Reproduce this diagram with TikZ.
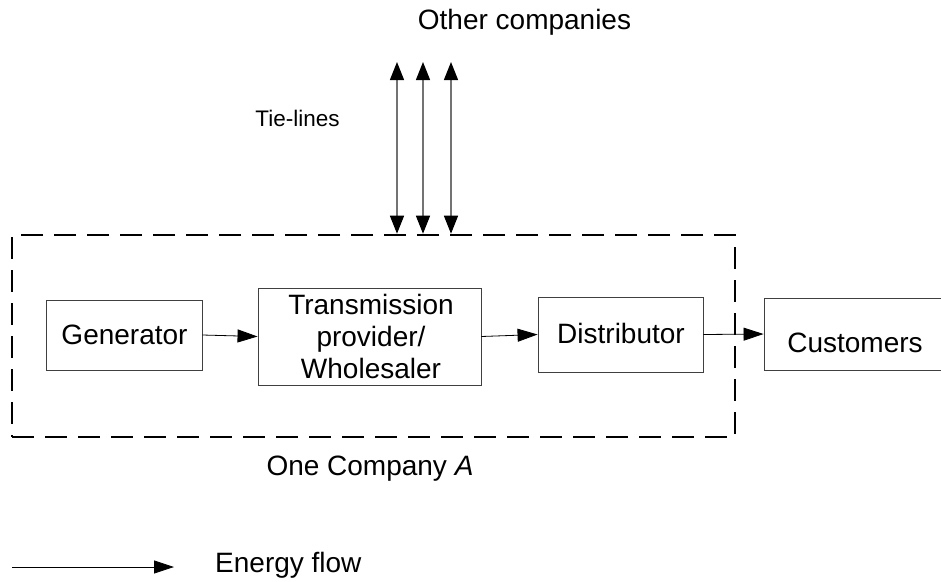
\documentclass[tikz,border=0pt]{standalone}
\usepackage{fontspec}
\setmainfont{Liberation Sans}
\usetikzlibrary{arrows.meta}
\tikzset{
  blockbox/.style={draw=black!75, line width=0.9pt, rectangle, inner sep=0pt},
  flow/.style={draw=black, line width=0.8pt, -{Triangle[length=20pt,width=13pt]}},
  tieline/.style={draw=black!55, line width=1.4pt, {Triangle[length=18pt,width=14pt,color=black]}-{Triangle[length=18pt,width=14pt,color=black]}},
  companybox/.style={draw=black, line width=2.6pt, dash pattern=on 22pt off 11pt, rectangle, inner sep=0pt},
  bigtext/.style={font=\fontsize{28}{32}\selectfont, align=center, inner sep=0pt},
  smalltext/.style={font=\fontsize{22.5}{26}\selectfont, inner sep=0pt}
}
\begin{document}
\begin{tikzpicture}[x=1pt, y=-1pt]
\useasboundingbox (0,0) rectangle (941,581);
\clip (0,0) rectangle (941,581);
% company boundary
\node[companybox, minimum width=723pt, minimum height=202pt] (comp) at (373.5,336) {};
% blocks
\node[blockbox, minimum width=156pt, minimum height=70pt] (gen) at (124,335) {};
\node[bigtext] (gentext) at (124.5,335) {Generator};
\node[blockbox, minimum width=223pt, minimum height=97pt] (trans) at (369.5,336.5) {};
\node[bigtext] (transtext) at (371,336) {Transmission\\provider/\\Wholesaler};
\node[blockbox, minimum width=165pt, minimum height=75pt] (dist) at (620.5,334.5) {};
\node[bigtext] (disttext) at (621,333) {Distributor};
\node[blockbox, minimum width=200pt, minimum height=72pt] (cust) at (864,334) {};
\node[bigtext] (custtext) at (855,343) {Customers};
% energy flow arrows
\draw[flow] (gen.east) -- (trans.west);
\draw[flow] (trans.east) -- (dist.west);
\draw[flow] (dist.east) -- (cust.west);
% tie lines
\coordinate (t1top) at (397,62);
\coordinate (t2top) at (423,62);
\coordinate (t3top) at (451,62);
\draw[tieline] (t1top) -- (t1top |- comp.north);
\draw[tieline] (t2top) -- (t2top |- comp.north);
\draw[tieline] (t3top) -- (t3top |- comp.north);
% labels
\node[bigtext] (other) at (524.5,22) {Other companies};
\node[smalltext] (tie) at (297.5,118) {Tie-lines};
\node[bigtext] (one) at (370,469) {One Company \textit{A}};
% legend
\coordinate (legstart) at (12,567);
\coordinate (legend) at (174,567);
\draw[flow] (legstart) -- (legend);
\node[bigtext, anchor=west] (energy) at (215,565) {Energy flow};
\end{tikzpicture}
\end{document}
